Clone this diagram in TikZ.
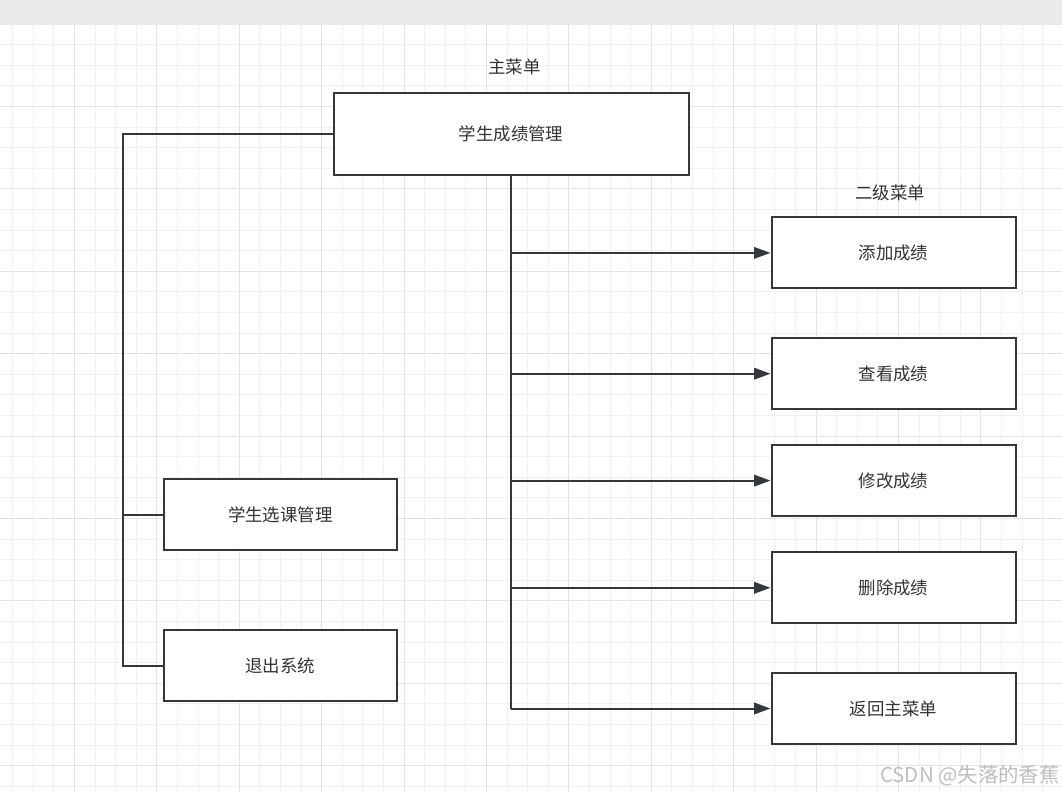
\documentclass[tikz,border=0pt]{standalone}
\usepackage{fontspec}
\newfontfamily\cjk{Noto Sans CJK SC}
\usetikzlibrary{arrows.meta}
\definecolor{linec}{RGB}{52,55,59}
\definecolor{textc}{RGB}{51,51,51}
\definecolor{stripc}{RGB}{233,234,236}
\definecolor{gthin}{RGB}{241,241,241}
\definecolor{gthick}{RGB}{227,227,227}
\definecolor{wmc}{RGB}{190,190,190}
\tikzset{
  gridthin/.style={draw=gthin, line width=1bp},
  gridthick/.style={draw=gthick, line width=1.2bp},
  menubox/.style={draw=linec, line width=2bp, fill=white, text=textc, font=\cjk\fontsize{17.5}{20}\selectfont, inner sep=0pt},
  mainbox/.style={menubox, minimum width=355bp, minimum height=82bp},
  leftbox/.style={menubox, minimum width=233bp, minimum height=71bp},
  subbox/.style={menubox, minimum width=244bp, minimum height=71bp},
  caption/.style={text=textc, font=\cjk\fontsize{17.5}{20}\selectfont, inner sep=0pt},
  conn/.style={draw=linec, line width=2bp},
  arr/.style={conn, -{Triangle[length=16.5bp,width=11.5bp]}},
}
\begin{document}
\begin{tikzpicture}[x=1bp,y=-1bp]
\useasboundingbox (0,0) rectangle (1062,792);
\fill[white] (0,0) rectangle (1062,792);
% grid
\begin{scope}
\clip (0,24.7) rectangle (1062,792);
\foreach \k in {-4,...,48} {
  \pgfmathsetmacro\xx{round(74+20.6*\k)+0.5}
  \draw[gridthin] (\xx,24.7) -- (\xx,792);
}
\foreach \k in {-4,...,33} {
  \pgfmathsetmacro\yy{round(106+20.6*\k)+0.5}
  \draw[gridthin] (0,\yy) -- (1062,\yy);
}
\foreach \k in {-1,...,12} {
  \pgfmathsetmacro\xx{round(74+82.4*\k)+0.5}
  \draw[gridthick] (\xx,24.7) -- (\xx,792);
}
\foreach \k in {-1,...,9} {
  \pgfmathsetmacro\yy{round(106+82.4*\k)+0.5}
  \draw[gridthick] (0,\yy) -- (1062,\yy);
}
\end{scope}
\fill[stripc] (0,0) rectangle (1062,24.7);
% labels
\node[caption] (lmain) at (514.5,66.5) {主菜单};
\node[caption] (lsub) at (890,193) {二级菜单};
% boxes
\node[mainbox] (main) at (511,134.2) {学生成绩管理};
\node[leftbox] (sel) at (280.4,514.7) {学生选课管理};
\node[leftbox] (exit) at (280.4,665.8) {退出系统};
\node[subbox] (add) at (893.5,252.9) {添加成绩};
\node[subbox] (view) at (893.5,373.7) {查看成绩};
\node[subbox] (mod) at (893.5,480.6) {修改成绩};
\node[subbox] (del) at (893.5,587.8) {删除成绩};
\node[subbox] (ret) at (893.5,708.5) {返回主菜单};
% left connectors
\coordinate (lx) at (122.7,134.2);
\draw[conn] (main.west) -- (main.west -| lx) -- (lx |- exit.west) -- (exit.west);
\draw[conn] (lx |- sel.west) -- (sel.west);
% right trunk and arrows
\draw[conn] (main.south) -- (main.south |- ret.west);
\draw[arr] (main.south |- add.west) -- (add.west);
\draw[arr] (main.south |- view.west) -- (view.west);
\draw[arr] (main.south |- mod.west) -- (mod.west);
\draw[arr] (main.south |- del.west) -- (del.west);
\draw[arr] (main.south |- ret.west) -- (ret.west);
% watermark
\node[anchor=east, text=wmc, font=\cjk\fontsize{20.5}{23}\selectfont, inner sep=0pt] (wm) at (1060,775.5) {CSDN @失落的香蕉};
\end{tikzpicture}
\end{document}
